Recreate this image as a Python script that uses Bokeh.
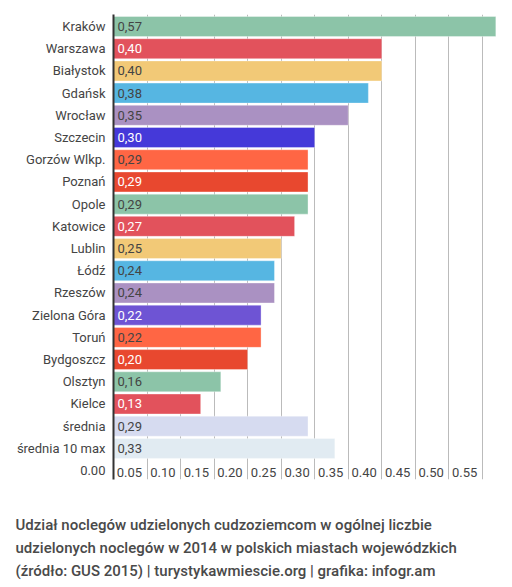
from bokeh.plotting import figure
from bokeh.models import ColumnDataSource, Range1d, FixedTicker, Grid, Title
from bokeh.core.properties import value
from bokeh.embed import file_html
from bokeh.resources import INLINE

# data
cities = ["Kraków", "Warszawa", "Białystok", "Gdańsk", "Wrocław", "Szczecin",
          "Gorzów Wlkp.", "Poznań", "Opole", "Katowice", "Lublin", "Łódź",
          "Rzeszów", "Zielona Góra", "Toruń", "Bydgoszcz", "Olsztyn", "Kielce",
          "średnia", "średnia 10 max"]
shares = [0.57, 0.40, 0.40, 0.38, 0.35, 0.30, 0.29, 0.29, 0.29, 0.27, 0.25,
          0.24, 0.24, 0.22, 0.22, 0.20, 0.16, 0.13, 0.29, 0.33]
bar_colors = ["#8cc4a8", "#e2525c", "#f2c977", "#56b6e2", "#aa91c2", "#4539d9",
              "#ff6644", "#e8482f", "#8cc4a8", "#e2525c", "#f2c977", "#56b6e2",
              "#aa91c2", "#6e54d4", "#ff6644", "#e8482f", "#8cc4a8", "#e2525c",
              "#d6dbf0", "#e1ebf2"]
label_colors = ["#444444", "#ffffff", "#444444", "#444444", "#444444", "#ffffff",
                "#444444", "#ffffff", "#444444", "#ffffff", "#444444", "#444444",
                "#444444", "#ffffff", "#444444", "#ffffff", "#444444", "#ffffff",
                "#444444", "#444444"]
tick_values = [0.00, 0.05, 0.10, 0.15, 0.20, 0.25, 0.30, 0.35, 0.40, 0.45, 0.50, 0.55]
tick_labels = ["%.2f" % t for t in tick_values]
caption = ["Udział noclegów udzielonych cudzoziemcom w ogólnej liczbie",
           "udzielonych noclegów w 2014 w polskich miastach wojewódzkich",
           "(źródło: GUS 2015) | turystykawmiescie.org | grafika: infogr.am"]

rows = list(range(len(cities)))
src = ColumnDataSource(dict(
    y=rows, share=shares, color=bar_colors, lcolor=label_colors,
    txt=[("%.2f" % s).replace(".", ",") for s in shares],
))
tick_row = len(cities)
# the 0.00 label sits left of the axis, so it goes on the y axis itself
tick_src = ColumnDataSource(dict(x=tick_values[1:], y=[tick_row] * (len(tick_values) - 1),
                                 txt=tick_labels[1:]))

p = figure(frame_width=383, frame_height=465,
           x_range=Range1d(0, 0.571), y_range=Range1d(tick_row + 0.4, -0.54),
           output_backend="svg", toolbar_location=None, tools="",
           x_axis_location=None,
           min_border_left=113, min_border_right=16, min_border_top=14, min_border_bottom=0)
p.outline_line_color = None
p.background_fill_color = "white"
p.ygrid.visible = False
p.xgrid.visible = False

grid = Grid(dimension=0, ticker=FixedTicker(ticks=tick_values[1:]),
            grid_line_color="#bbbbbb", grid_line_width=1)
p.add_layout(grid)

p.hbar(y="y", left=0, right="share", height=0.9, source=src,
       fill_color="color", line_color="white", line_alpha=0.35, line_width=1)
p.text(x=0, y="y", text="txt", source=src, x_offset=4, text_align="left",
       text_baseline="middle", text_color="lcolor", text_font=value("Roboto"),
       text_font_size="13px")

# x tick labels sit just left of their gridline, inside the last row
p.text(x="x", y="y", text="txt", source=tick_src, x_offset=-5, y_offset=2,
       text_align="right", text_baseline="middle", text_color="#444444",
       text_font=value("Roboto"), text_font_size="13px")

yaxis = p.yaxis[0]
yaxis.ticker = FixedTicker(ticks=rows + [tick_row])
overrides = {i: c for i, c in enumerate(cities)}
overrides[tick_row] = tick_labels[0]
yaxis.major_label_overrides = overrides
yaxis.axis_line_color = "#333333"
yaxis.axis_line_width = 2
yaxis.major_tick_line_color = None
yaxis.major_tick_out = 0
yaxis.major_tick_in = 0
yaxis.minor_tick_line_color = None
yaxis.major_label_standoff = 8
yaxis.major_label_text_font = "Roboto"
yaxis.major_label_text_font_size = "13px"
yaxis.major_label_text_color = "#444444"

# blank spacer between the chart and the caption
p.add_layout(Title(text=" ", text_font_size="15px", standoff=14), "below")
for line in caption:
    t = Title(text=line, align="left", offset=-98, text_font="Roboto Medium, Roboto",
              text_font_size="15px", text_color="#4a4a4a", text_font_style="normal",
              standoff=3)
    p.add_layout(t, "below")

open("out.html", "w").write(file_html(p, INLINE))
